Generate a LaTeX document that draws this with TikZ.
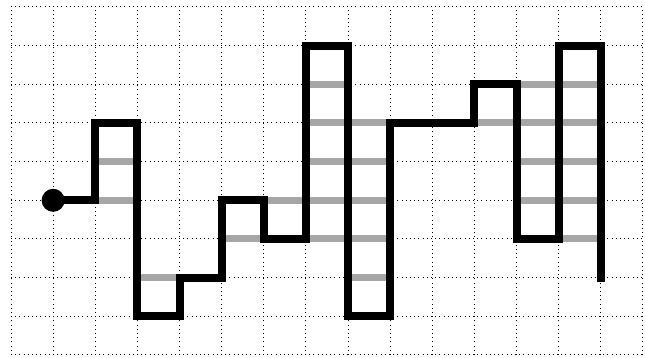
\documentclass[tikz,border=0pt]{standalone}
\begin{document}
\begin{tikzpicture}[x=42.13pt,y=38.67pt,
  gridline/.style={line width=1pt,dash pattern=on 1pt off 3.2pt,black},
  graybar/.style={line width=7pt,gray!70},
  route/.style={line width=8pt,black,line join=miter,line cap=rect}]
\useasboundingbox (-11pt,-3pt) rectangle (634pt,355pt);
\foreach \i in {0,...,15} \draw[gridline] (\i,0) -- (\i,9);
\foreach \j in {0,...,9} \draw[gridline] (0,\j) -- (15,\j);
\foreach \a/\b in {2/5,2/4,3/2,5/3,6/4,7/7,7/6,7/5,7/4,7/3,8/6,8/5,8/4,8/3,8/2,11/6,12/7,12/6,12/5,12/4,13/7,13/6,13/5,13/4,13/3}
  \draw[graybar] (\a,\b) -- (\a+1,\b);
\coordinate (start) at (1,4);
\draw[route] (start) -- (2,4) -- (2,6) -- (3,6) -- (3,1) -- (4,1) -- (4,2) -- (5,2) -- (5,4) -- (6,4) -- (6,3) -- (7,3) -- (7,8) -- (8,8) -- (8,1) -- (9,1) -- (9,6) -- (11,6) -- (11,7) -- (12,7) -- (12,3) -- (13,3) -- (13,8) -- (14,8) -- (14,2);
\fill (start) circle (11.5pt);
\end{tikzpicture}
\end{document}
